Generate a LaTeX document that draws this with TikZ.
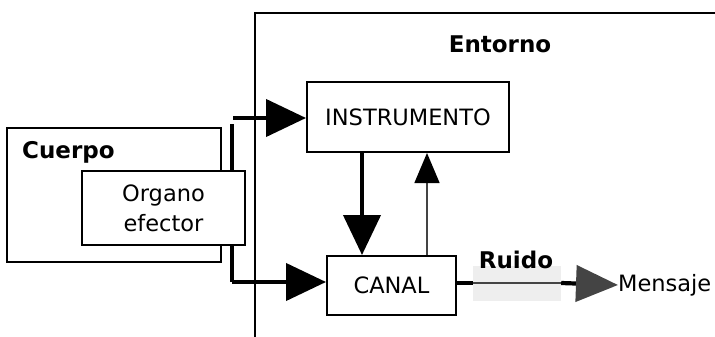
\documentclass[tikz,border=0pt]{standalone}
\usepackage{fontspec}
\setmainfont{DejaVu Sans}
\usetikzlibrary{arrows.meta}
\definecolor{tipgray}{HTML}{444444}
\definecolor{noisegray}{HTML}{EEEEEE}

\begin{document}
\begin{tikzpicture}[x=1pt,y=-1pt,line join=miter]
        \tikzstyle{box}=[draw,line width=2pt,fill=white,inner sep=0pt,font=\fontsize{22.5}{30}\selectfont]
        \tikzstyle{label}=[inner sep=0pt,font=\fontsize{22.5}{25}\selectfont]
        \tikzstyle{tag}=[label,font=\fontsize{23}{25}\selectfont\bfseries]
        \tikzstyle{heavy}=[line width=4.2pt,-{Triangle[length=40pt,width=37pt]}]
        \tikzstyle{light}=[draw=tipgray,line width=1.5pt,-{Triangle[length=30pt,width=25pt,color=black]}]
        \useasboundingbox (0,0) rectangle (715,337);

        % Entorno
        \draw[line width=2.4pt] (255,337) -- (255,13) -- (716,13);
        \node[tag] (entorno) at (500,44) {Entorno};

        % Cuerpo and its organ
        \node[box,minimum width=214pt,minimum height=134pt] (cuerpo) at (114,195) {};
        \node[tag,anchor=west] (cuerpolbl) at (22,152) {Cuerpo};
        \coordinate (up) at (233,118);
        \coordinate (down) at (232,124);
        \coordinate (bend) at (232,282);
        \draw[line width=4.2pt] (down) -- (bend);
        \node[box,minimum width=163pt,minimum height=74pt,align=center] (organo) at (163.5,208) {Organo\\efector};

        % Instrument and channel
        \node[box,minimum width=202pt,minimum height=70pt] (instr) at (408,117) {INSTRUMENTO};
        \node[box,minimum width=129pt,minimum height=59pt] (canal) at (391.5,285.5) {CANAL};

        \draw[heavy] (up) -- (up -| instr.west);
        \draw[heavy] (bend) -- (bend -| canal.west);
        \draw[heavy] ([xshift=56pt]instr.south west) -- ([xshift=36pt]canal.north west);
        \draw[light] ([xshift=101pt]canal.north west) -- ([xshift=121pt]instr.south west);

        % Noise on the output
        \node[fill=noisegray,minimum width=88pt,minimum height=35pt,inner sep=0pt] (ruido) at (517,283) {};
        \node[tag] (ruidolbl) at (516,260) {Ruido};
        \node[label,anchor=west] (mensaje) at (618,285) {Mensaje};
        \draw[line width=4.2pt] (canal.east |- ruido.west) -- (ruido.west);
        \draw[draw=tipgray,line width=1.5pt] (ruido.west) -- (ruido.east);
        \draw[line width=4.2pt,-{Triangle[length=42pt,width=36pt,color=tipgray]}] (ruido.east) -- (mensaje.west);
\end{tikzpicture}
\end{document}
